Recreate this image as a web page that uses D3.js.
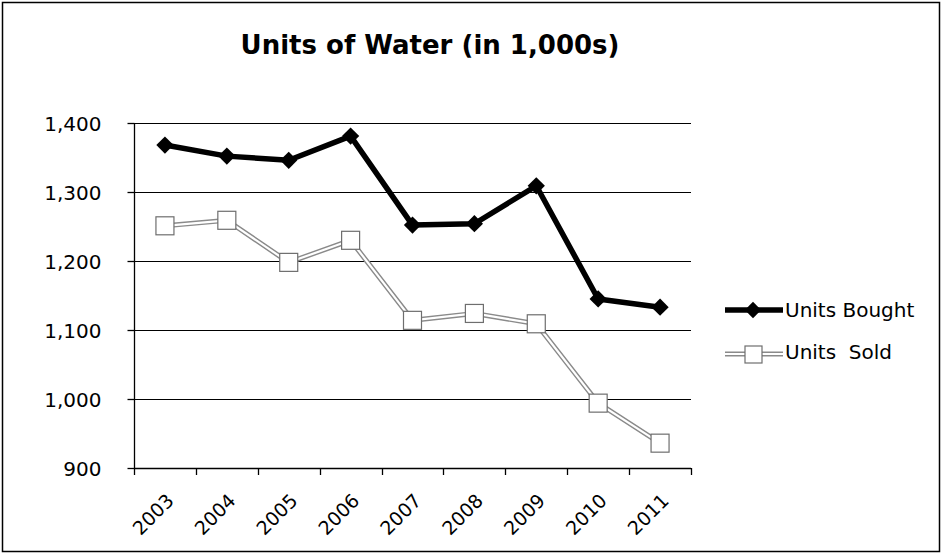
<!DOCTYPE html>
<html>
<head>
<meta charset="utf-8">
<script src="https://cdn.jsdelivr.net/npm/d3@7"></script>
<style>
  body { margin: 0; background: #fff; }
  text { font-family: "DejaVu Sans", sans-serif; fill: #000; }
</style>
</head>
<body>
<div id="chart"></div>
<script>
// DATA
var years = ["2003", "2004", "2005", "2006", "2007", "2008", "2009", "2010", "2011"];
var unitsBought = [1368, 1352, 1346, 1381, 1252, 1254, 1309, 1145, 1133];
var unitsSold = [1251, 1259, 1198, 1230, 1114, 1124, 1109, 994, 936];
var yTicks = [900, 1000, 1100, 1200, 1300, 1400];

var width = 942,
    height = 554,
    left = 134,
    right = 691;

var svg = d3.select("#chart").append("svg")
    .attr("width", width)
    .attr("height", height);

// frame
svg.append("rect")
    .attr("x", 2.5).attr("y", 2.5)
    .attr("width", width - 5).attr("height", height - 5)
    .attr("fill", "none")
    .attr("stroke", "#000")
    .attr("stroke-width", 1.5);

svg.append("text")
    .attr("x", 430)
    .attr("y", 54)
    .attr("text-anchor", "middle")
    .style("font-size", "26px")
    .style("font-weight", "bold")
    .text("Units of Water (in 1,000s)");

var x = d3.scaleBand()
    .domain(years)
    .range([left, right]);

var y = d3.scaleLinear()
    .domain([900, 1400])
    .range([468, 123]);

// gridlines
svg.append("g").selectAll("line")
    .data(yTicks)
  .enter().append("line")
    .attr("x1", left).attr("x2", right)
    .attr("y1", function(d) { return Math.round(y(d)) + 0.5; })
    .attr("y2", function(d) { return Math.round(y(d)) + 0.5; })
    .attr("stroke", "#000")
    .attr("stroke-width", 1.2);

// y axis
var yAxis = svg.append("g")
    .attr("transform", "translate(" + (left + 0.5) + ",0)")
    .call(d3.axisLeft(y).tickValues(yTicks).tickSize(7).tickPadding(26)
        .tickFormat(d3.format(",")));
yAxis.selectAll("text").style("font-size", "20px").style("font-family", "DejaVu Sans").attr("dy", "0.36em");
yAxis.selectAll("line, path").attr("stroke", "#000").attr("stroke-width", 1.3);
yAxis.select(".domain").attr("d", "M0,123V468");

// x axis
var xTicks = years.map(function(d) { return x(d); }).concat([right]);
var xAxis = svg.append("g");
xAxis.append("line")
    .attr("x1", left).attr("x2", right)
    .attr("y1", 468.5).attr("y2", 468.5)
    .attr("stroke", "#000").attr("stroke-width", 1.6);
xAxis.selectAll(".tick")
    .data(xTicks)
  .enter().append("line")
    .attr("x1", function(d) { return Math.round(d) + 0.5; })
    .attr("x2", function(d) { return Math.round(d) + 0.5; })
    .attr("y1", 468).attr("y2", 475)
    .attr("stroke", "#000")
    .attr("stroke-width", 1.3);
xAxis.selectAll("text")
    .data(years)
  .enter().append("text")
    .attr("transform", function(d) {
        return "translate(" + (x(d) + x.bandwidth() / 2 + 10) + ",502) rotate(-45)";
    })
    .attr("text-anchor", "end")
    .style("font-size", "19px")
    .text(function(d) { return d; });

var cx = function(d, i) { return x(years[i]) + x.bandwidth() / 2; };

var line = d3.line()
    .x(cx)
    .y(function(d) { return y(d); });

// Units Sold: hollow gray double line
svg.append("path")
    .attr("d", line(unitsSold))
    .attr("fill", "none")
    .attr("stroke", "#8a8a8a")
    .attr("stroke-width", 5);
svg.append("path")
    .attr("d", line(unitsSold))
    .attr("fill", "none")
    .attr("stroke", "#fff")
    .attr("stroke-width", 2.2);
svg.append("g").selectAll("rect")
    .data(unitsSold)
  .enter().append("rect")
    .attr("x", function(d, i) { return cx(d, i) - 9; })
    .attr("y", function(d) { return y(d) - 9; })
    .attr("width", 18).attr("height", 18)
    .attr("fill", "#fff")
    .attr("stroke", "#6e6e6e")
    .attr("stroke-width", 1.2);

// Units Bought: thick black with diamonds
svg.append("path")
    .attr("d", line(unitsBought))
    .attr("fill", "none")
    .attr("stroke", "#000")
    .attr("stroke-width", 5.5)
    .attr("stroke-linejoin", "round");
var diamond = d3.symbol().type(d3.symbolDiamond2).size(190);
svg.append("g").selectAll("path")
    .data(unitsBought)
  .enter().append("path")
    .attr("transform", function(d, i) {
        return "translate(" + cx(d, i) + "," + y(d) + ")";
    })
    .attr("d", diamond)
    .attr("fill", "#000");

// legend
var lg = svg.append("g");
lg.append("line")
    .attr("x1", 725).attr("x2", 783).attr("y1", 310).attr("y2", 310)
    .attr("stroke", "#000").attr("stroke-width", 5.5);
lg.append("path")
    .attr("transform", "translate(753,310)")
    .attr("d", d3.symbol().type(d3.symbolDiamond2).size(170))
    .attr("fill", "#000");
lg.append("text")
    .attr("x", 785).attr("y", 310).attr("dy", "0.36em")
    .style("font-size", "20px")
    .text("Units Bought");

lg.append("line")
    .attr("x1", 725).attr("x2", 783).attr("y1", 354).attr("y2", 354)
    .attr("stroke", "#8a8a8a").attr("stroke-width", 5);
lg.append("line")
    .attr("x1", 725).attr("x2", 783).attr("y1", 354).attr("y2", 354)
    .attr("stroke", "#fff").attr("stroke-width", 2.2);
lg.append("rect")
    .attr("x", 745).attr("y", 346).attr("width", 17).attr("height", 17)
    .attr("fill", "#fff").attr("stroke", "#6e6e6e").attr("stroke-width", 1.2);
lg.append("text")
    .attr("x", 785).attr("y", 352).attr("dy", "0.36em")
    .style("font-size", "20px")
    .style("white-space", "pre")
    .text("Units  Sold");
</script>
</body>
</html>
